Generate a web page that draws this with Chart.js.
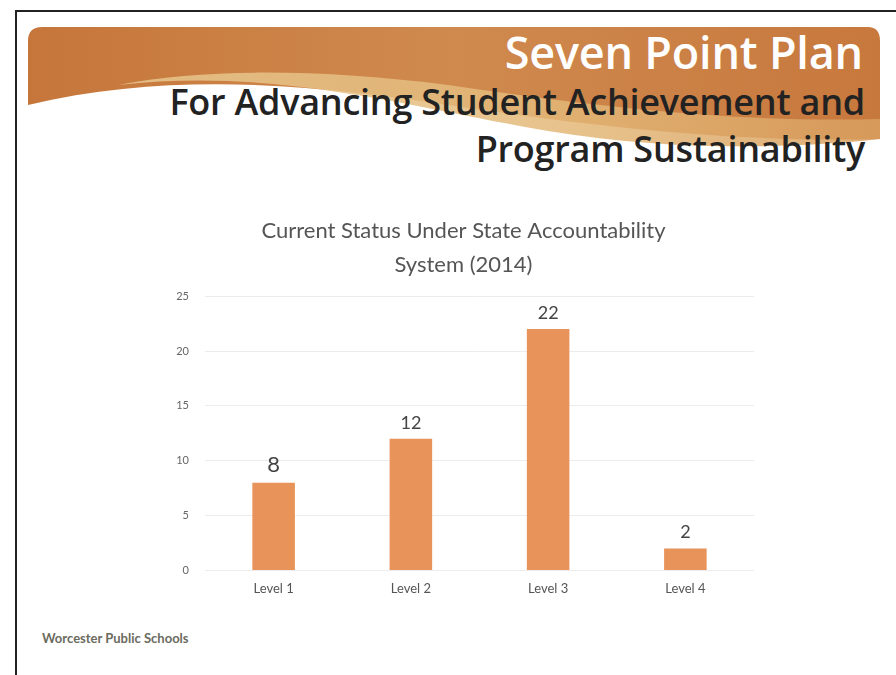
<!DOCTYPE html>
<html>
<head>
<meta charset="utf-8">
<script src="https://cdn.jsdelivr.net/npm/chart.js@4"></script>
<style>
  body { margin: 0; background: #fff; width: 896px; height: 675px; overflow: hidden; font-family: Lato, "Open Sans", sans-serif; }
  .frame { position: absolute; left: 15px; top: 10px; width: 890px; height: 680px; border-left: 2px solid #222; border-top: 2px solid #222; }
  .banner { position: absolute; left: 28px; top: 27px; }
  .t1 { position: absolute; right: 33px; top: 21px; color: #fff; font: 600 45px "Open Sans", sans-serif; letter-spacing: -0.2px; }
  .t2 { position: absolute; right: 31px; top: 78px; color: #222; font: 600 36px "Open Sans", sans-serif; text-align: right; line-height: 47px; letter-spacing: -0.25px; }
  .chartBox { position: absolute; left: 129px; top: 206px; width: 645px; height: 394px; }
  .footer { position: absolute; left: 42px; top: 630px; color: #6b6b5e; font: bold 13px Lato, sans-serif; }
</style>
</head>
<body>
<div class="frame"></div>
<svg class="banner" width="855" height="140" viewBox="0 0 855 140">
  <defs>
    <linearGradient id="g" x1="0" y1="0" x2="1" y2="0">
      <stop offset="0" stop-color="#c6763a"/>
      <stop offset="0.5" stop-color="#d08a4e"/>
      <stop offset="1" stop-color="#c7783d"/>
    </linearGradient>
    <linearGradient id="g2" x1="0" y1="0" x2="1" y2="0">
      <stop offset="0" stop-color="#e8c890"/>
      <stop offset="0.6" stop-color="#e3b777"/>
      <stop offset="1" stop-color="#d99f5f"/>
    </linearGradient>
  </defs>
  <path d="M0,14 Q0,0 14,0 L840,0 Q852,0 852,14 L852,112 C700,116 560,98 420,78 C300,60 150,42 0,78 Z" fill="url(#g)"/>
  <path d="M90,58 C250,40 380,80 520,104 C640,124 760,122 852,112 L852,92 C700,96 560,78 420,58 C300,43 180,40 90,58 Z" fill="url(#g2)" opacity="0.85"/>
</svg>
<div class="t1">Seven Point Plan</div>
<div class="t2">For Advancing Student Achievement and<br>Program Sustainability</div>
<div class="chartBox"><canvas id="chart"></canvas></div>
<div class="footer">Worcester Public Schools</div>
<script>
const categories = ['Level 1', 'Level 2', 'Level 3', 'Level 4'];
const schoolCounts = [8, 12, 22, 2];
const yTicks = [0, 5, 10, 15, 20, 25];

const barLabels = {
  id: 'barLabels',
  afterDatasetsDraw(chart) {
    const ctx = chart.ctx;
    const meta = chart.getDatasetMeta(0);
    ctx.save();
    ctx.fillStyle = '#444';
    ctx.textAlign = 'center';
    ctx.textBaseline = 'bottom';
    meta.data.forEach((bar, i) => {
      // the first label is printed a bit larger in the original slide
      ctx.font = (i === 0 ? '22px' : '18px') + ' Lato, sans-serif';
      ctx.fillText(String(schoolCounts[i]), bar.x, bar.y - 7);
    });
    ctx.restore();
  }
};

new Chart(document.getElementById('chart'), {
  type: 'bar',
  data: {
    labels: categories,
    datasets: [{
      data: schoolCounts,
      backgroundColor: '#e8935a',
      barPercentage: 0.31,
      categoryPercentage: 1
    }]
  },
  options: {
    responsive: true,
    maintainAspectRatio: false,
    animation: false,
    layout: { padding: { left: 44, right: 20, top: 0, bottom: 0 } },
    plugins: {
      legend: { display: false },
      tooltip: { enabled: false },
      title: {
        display: true,
        text: ['Current Status Under State Accountability', 'System (2014)'],
        color: '#555',
        font: { family: 'Lato, sans-serif', size: 22, weight: 'normal', lineHeight: 1.55 },
        padding: { top: 8, bottom: 14 }
      }
    },
    scales: {
      x: {
        grid: { display: false },
        border: { display: false },
        ticks: { color: '#555', font: { family: 'Lato, sans-serif', size: 13 } }
      },
      y: {
        min: 0,
        max: 25,
        afterBuildTicks: axis => { axis.ticks = yTicks.map(v => ({ value: v })); },
        afterFit: axis => { axis.width = 32; },
        grid: { color: '#ececec', drawTicks: false },
        border: { display: false },
        ticks: { color: '#666', font: { family: 'Lato, sans-serif', size: 11 }, padding: 16 }
      }
    }
  },
  plugins: [barLabels]
});
</script>
</body>
</html>
